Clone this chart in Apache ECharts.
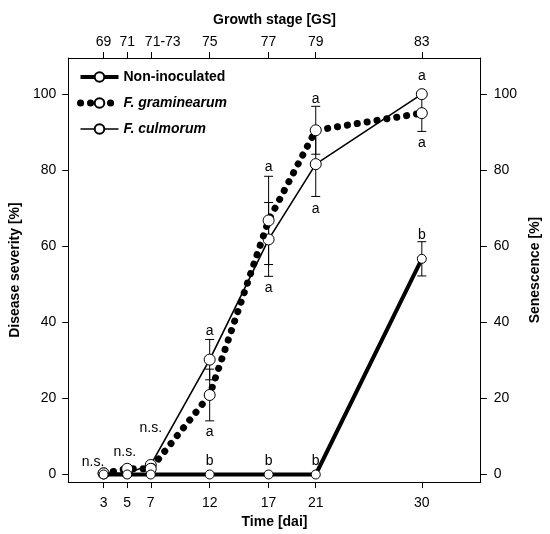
<!DOCTYPE html>
<html><head><meta charset="utf-8">
<script src="https://cdn.jsdelivr.net/npm/echarts@6/dist/echarts.min.js"></script>
<style>html,body{margin:0;padding:0;background:#fff}#c{width:550px;height:534px}</style>
</head><body><div id="c"></div>
<script>
const days = [3, 5, 7, 12, 17, 21, 30];
const gsLabels = ['69', '71', '71-73', '75', '77', '79', '83'];
const yTicks = [0, 20, 40, 60, 80, 100];
const nonInoc = [0, 0, 0, 0, 0, 0, 56.7];
const nonInocErr = [0, 0, 0, 0, 0, 0, 4.5];
const gram = [0.3, 1.5, 1.5, 20.9, 66.8, 90.5, 95];
const gramErr = [0, 0, 0, 6.8, 11.6, 6.3, 4.8];
const culm = [0.3, 0.4, 2.5, 30.2, 61.8, 81.6, 100];
const culmErr = [0, 0, 0, 5.3, 9.7, 8.5, 0];
const noteDays = [2.1, 4.8, 7, 12, 12, 12, 17, 17, 17, 21, 21, 21, 30, 30, 30];
const noteVals = [3.3, 5.9, 12.1, 37.7, 11.2, 3.6, 80.8, 49, 3.6, 98.7, 69.8, 3.6, 104.7, 87.2, 63];
const noteTexts = ['n.s.', 'n.s.', 'n.s.', 'a', 'a', 'b', 'a', 'a', 'b', 'a', 'a', 'b', 'a', 'a', 'b'];

const FONT = 'Liberation Sans, Arial, sans-serif';
const chart = echarts.init(document.getElementById('c'), null, {renderer: 'canvas'});

const DOTS = {width: 7, type: [0.1, 9.9], cap: 'round', color: '#000'};

function errSeries(vals, errs, z) {
  const data = [];
  days.forEach((d, i) => { if (errs[i] > 0) data.push([d, vals[i] - errs[i], vals[i] + errs[i]]); });
  return {
    type: 'custom', z: z, silent: true, xAxisIndex: 0, yAxisIndex: 0,
    encode: {x: 0, y: [1, 2]},
    data: data,
    renderItem: (params, api) => {
      const lo = api.coord([api.value(0), api.value(1)]);
      const hi = api.coord([api.value(0), api.value(2)]);
      const w = 4.5;
      const style = {stroke: '#000', lineWidth: 1};
      return {type: 'group', children: [
        {type: 'line', shape: {x1: lo[0], y1: lo[1], x2: hi[0], y2: hi[1]}, style: style},
        {type: 'line', shape: {x1: lo[0] - w, y1: lo[1], x2: lo[0] + w, y2: lo[1]}, style: style},
        {type: 'line', shape: {x1: hi[0] - w, y1: hi[1], x2: hi[0] + w, y2: hi[1]}, style: style}
      ]};
    }
  };
}

const axisCommon = {
  axisLine: {show: true, onZero: false, lineStyle: {color: '#000', width: 1}},
  splitLine: {show: false},
  nameTextStyle: {fontWeight: 'bold', fontSize: 14, fontFamily: FONT, color: '#000'}
};

const option = {
  animation: false,
  backgroundColor: '#fff',
  textStyle: {fontFamily: FONT},
  grid: {left: 66, right: 51, top: 58, bottom: 45, containLabel: false},
  legend: {
    orient: 'vertical', left: 72, top: 65, itemWidth: 38, itemHeight: 12, itemGap: 12,
    data: [
      {name: 'Non-inoculated', lineStyle: {width: 4, color: '#000'}},
      {name: 'F. graminearum', lineStyle: DOTS},
      {name: 'F. culmorum', lineStyle: {width: 1.6, color: '#000'}}
    ],
    formatter: n => n === 'Non-inoculated' ? '{b|' + n + '}' : '{bi|' + n + '}',
    textStyle: {
      rich: {
        b: {fontWeight: 'bold', fontSize: 14, fontFamily: FONT, color: '#000'},
        bi: {fontWeight: 'bold', fontStyle: 'italic', fontSize: 14, fontFamily: FONT, color: '#000'}
      }
    }
  },
  xAxis: [
    Object.assign({}, axisCommon, {
      type: 'value', position: 'bottom', min: 0, max: 35,
      axisTick: {show: true, customValues: days, length: 6, lineStyle: {color: '#000'}},
      axisLabel: {customValues: days, fontSize: 14, color: '#000', margin: 14, fontFamily: FONT},
      name: 'Time [dai]', nameLocation: 'middle', nameGap: 29
    }),
    Object.assign({}, axisCommon, {
      type: 'value', position: 'top', min: 0, max: 35,
      axisTick: {show: true, customValues: days, length: 6, lineStyle: {color: '#000'}},
      axisLabel: {customValues: days, fontSize: 14, color: '#000', margin: 9, fontFamily: FONT,
        formatter: v => {
          const t = gsLabels[days.indexOf(v)];
          return t.indexOf('-') >= 0 ? '{s|' + t + '}' : t;
        },
        rich: {s: {fontSize: 14, fontFamily: FONT, color: '#000', padding: [0, 0, 0, 24]}}
      },
      name: 'Growth stage [GS]', nameLocation: 'middle', nameGap: 31
    })
  ],
  yAxis: [
    Object.assign({}, axisCommon, {
      type: 'value', position: 'left', min: -2, max: 109.5,
      axisTick: {show: true, customValues: yTicks, length: 6, lineStyle: {color: '#000'}},
      axisLabel: {customValues: yTicks, fontSize: 14, color: '#000', margin: 12, fontFamily: FONT},
      name: 'Disease severity [%]', nameLocation: 'middle', nameGap: 37, nameRotate: 90
    }),
    Object.assign({}, axisCommon, {
      type: 'value', position: 'right', min: -2, max: 109.5,
      axisTick: {show: true, customValues: yTicks, length: 6, lineStyle: {color: '#000'}},
      axisLabel: {customValues: yTicks, fontSize: 14, color: '#000', margin: 13, fontFamily: FONT},
      name: 'Senescence [%]', nameLocation: 'middle', nameGap: 35, nameRotate: 90
    })
  ],
  series: [
    errSeries(culm, culmErr, 1),
    errSeries(gram, gramErr, 1),
    errSeries(nonInoc, nonInocErr, 1),
    {
      name: 'F. culmorum', type: 'line', z: 3, xAxisIndex: 0, yAxisIndex: 0,
      data: days.map((d, i) => [d, culm[i]]),
      symbol: 'circle', symbolSize: 11, showAllSymbol: true,
      lineStyle: {color: '#000', width: 1.6},
      itemStyle: {color: '#fff', borderColor: '#000', borderWidth: 1}
    },
    {
      name: 'F. graminearum', type: 'line', z: 4, xAxisIndex: 0, yAxisIndex: 0,
      data: days.map((d, i) => [d, gram[i]]),
      symbol: 'circle', symbolSize: 11, showAllSymbol: true,
      lineStyle: DOTS,
      itemStyle: {color: '#fff', borderColor: '#000', borderWidth: 1}
    },
    {
      name: 'Non-inoculated', type: 'line', z: 5, xAxisIndex: 0, yAxisIndex: 0,
      data: days.map((d, i) => [d, nonInoc[i]]),
      symbol: 'circle', symbolSize: 9, showAllSymbol: true,
      lineStyle: {color: '#000', width: 4},
      itemStyle: {color: '#fff', borderColor: '#000', borderWidth: 1}
    },
    {
      type: 'custom', z: 6, silent: true, xAxisIndex: 0, yAxisIndex: 0,
      encode: {x: 0, y: 1},
      data: noteDays.map((d, i) => [d, noteVals[i]]),
      renderItem: (params, api) => {
        const p = api.coord([api.value(0), api.value(1)]);
        return {type: 'text', x: p[0], y: p[1], style: {
          text: noteTexts[params.dataIndex], textAlign: 'center', textVerticalAlign: 'middle',
          font: '14px ' + FONT, fill: '#000'
        }};
      }
    }
  ]
};
chart.setOption(option);
</script>
</body></html>
